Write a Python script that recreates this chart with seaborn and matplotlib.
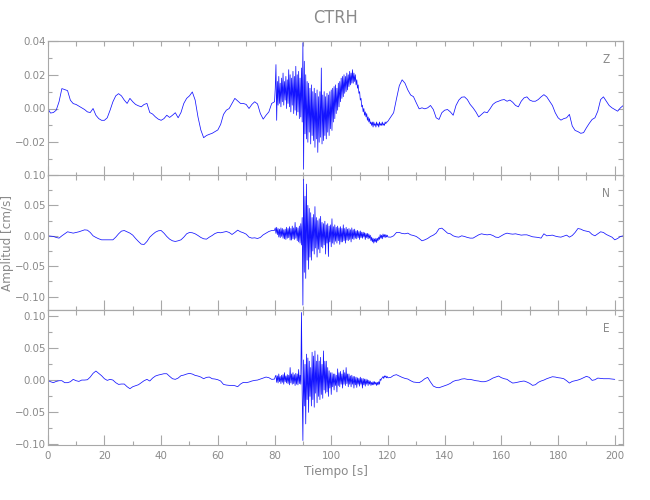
import numpy as np
import pandas as pd
import matplotlib
matplotlib.use('Agg')
import matplotlib.pyplot as plt
import seaborn as sns
from matplotlib.ticker import MultipleLocator, FuncFormatter, NullFormatter

# velocidades (cm/s) leidas del sismograma
# pre: t = 0..79 s cada 1 s ; burst: t = 80..120 s cada 0.25 s ; post: t = 121.. cada 1 s
z_pre = [0.000, -0.0027, -0.0024, -0.001, 0.004, 0.0118, 0.0112, 0.0106, 0.0049, 0.0029,
         0.0024, 0.0014, 0.0004, -0.0006, -0.002, -0.0024, 0.000, -0.004, -0.006, -0.007,
         -0.007, -0.0055, -0.001, 0.004, 0.0075, 0.0088, 0.0075, 0.005, 0.003, 0.006,
         0.004, 0.0024, 0.0016, 0.001, 0.0024, 0.003, -0.0024, -0.0033, -0.005, -0.0063,
         -0.007, -0.006, -0.004, -0.0053, -0.004, -0.0025, -0.0055, -0.0024, 0.003, 0.006,
         0.0075, 0.0098, 0.005, -0.005, -0.0127, -0.0173, -0.016, -0.0153, -0.0147, -0.0137,
         -0.0127, -0.0094, -0.0035, -0.001, 0.000, 0.003, 0.006, 0.0045, 0.003, 0.003,
         0.0024, 0.000, 0.0024, 0.004, 0.0027, -0.003, -0.0063, -0.004, -0.002, 0.003]
z_burst = [0.004, 0.012, 0.026, -0.007, 0.016, 0.002, 0.019, 0.003,
           0.015, 0.001, 0.018, 0.004, 0.021, 0.002, 0.016, 0.005,
           0.019, 0.000, 0.017, 0.003, 0.023, 0.001, 0.020, -0.002,
           0.018, 0.002, 0.022, -0.003, 0.019, -0.001, 0.025, -0.004,
           0.020, -0.002, 0.022, -0.006, 0.018, -0.005, 0.024, -0.008,
           0.039, -0.036, 0.028, -0.015, 0.020, -0.018, 0.016, -0.020,
           0.015, -0.014, 0.012, -0.021, 0.014, -0.016, 0.010, -0.019,
           0.012, -0.023, 0.009, -0.018, 0.011, -0.026, 0.007, -0.020,
           0.010, -0.017, 0.024, -0.021, 0.008, -0.019, 0.010, -0.016,
           0.007, -0.018, 0.009, -0.014, 0.008, -0.016, 0.010, -0.012,
           0.011, -0.013, 0.012, -0.008, 0.013, -0.006, 0.014, -0.003,
           0.012, -0.001, 0.015, 0.001, 0.016, 0.004, 0.018, 0.006,
           0.019, 0.007, 0.020, 0.009, 0.019, 0.010, 0.021, 0.011,
           0.020, 0.013, 0.022, 0.014, 0.021, 0.015, 0.023, 0.015,
           0.021, 0.016, 0.020, 0.014, 0.017, 0.012, 0.014, 0.009,
           0.010, 0.005, 0.006, 0.001, 0.002, -0.002, 0.000, -0.004,
           -0.002, -0.005, -0.003, -0.007, -0.005, -0.008, -0.006, -0.009,
           -0.008, -0.010, -0.008, -0.011, -0.008, -0.010, -0.009, -0.011,
           -0.008, -0.010, -0.009, -0.011, -0.008, -0.010, -0.009, -0.010,
           -0.008, -0.010, -0.009, -0.010, -0.008, -0.009, -0.008, -0.008,
           -0.0075]
z_post = [-0.005, -0.0025, 0.0057, 0.0135, 0.017, 0.015, 0.011, 0.008, 0.007, 0.0033,
          -0.0002, 0.0004, -0.0002, 0.0004, 0.0018, -0.0006, -0.0055, -0.0065, -0.0025, -0.001,
          -0.0006, -0.002, -0.004, 0.0018, 0.005, 0.0067, 0.0069, 0.0053, 0.0024, 0.0004,
          -0.002, -0.005, -0.0035, -0.002, -0.0025, -0.0002, 0.0024, 0.0037, 0.0043, 0.005,
          0.0053, 0.0043, 0.005, 0.0037, 0.0018, 0.001, 0.0043, 0.0063, 0.0069, 0.005,
          0.0043, 0.0043, 0.0053, 0.0069, 0.0082, 0.0069, 0.0043, 0.0018, -0.0025, -0.0055,
          -0.0069, -0.006, -0.0055, -0.0035, -0.0104, -0.013, -0.0137, -0.0147, -0.0143, -0.0114,
          -0.0088, -0.0065, -0.0055, -0.0016, 0.0053, 0.0069, 0.0043, 0.0018, 0.0004, -0.0006,
          -0.0016, 0.0004, 0.0018]

n_pre = [0.000, -0.0005, -0.001, -0.0027, -0.0038, 0.000, 0.0033, 0.0066, 0.0055, 0.0044,
         0.0055, 0.0066, 0.0082, 0.0098, 0.0093, 0.0055, 0.000, -0.0027, -0.0049, -0.0066,
         -0.0066, -0.0066, -0.0066, -0.0066, -0.0022, 0.0033, 0.0077, 0.0087, 0.0066, 0.0044,
         0.0011, -0.0044, -0.0093, -0.0137, -0.0142, -0.0093, -0.0022, 0.0022, 0.006, 0.0082,
         0.0087, 0.0044, -0.0011, -0.0055, -0.0082, -0.0093, -0.0082, -0.0066, -0.0022, 0.0033,
         0.0055, 0.005, 0.0033, 0.0005, -0.0027, -0.0049, -0.0055, -0.0022, 0.0005, 0.0038,
         0.0055, 0.005, 0.006, 0.0071, 0.0055, 0.0022, 0.0055, 0.0093, 0.0066, 0.005,
         0.0027, -0.0022, -0.0038, -0.0033, -0.0044, -0.0027, 0.0016, 0.0044, 0.0071, 0.0087]
n_burst = [0.009, 0.013, 0.004, 0.014, 0.002, 0.012, -0.002, 0.011,
           -0.003, 0.013, -0.001, 0.012, -0.004, 0.010, -0.005, 0.011,
           -0.006, 0.014, -0.004, 0.012, -0.003, 0.015, -0.007, 0.012,
           -0.007, 0.016, -0.005, 0.013, -0.006, 0.022, -0.004, 0.014,
           -0.008, 0.013, -0.010, 0.016, -0.012, 0.020, -0.015, 0.030,
           -0.114, 0.093, -0.060, 0.065, -0.070, 0.085, -0.040, 0.050,
           -0.055, 0.045, -0.035, 0.038, -0.040, 0.030, -0.025, 0.035,
           -0.030, 0.048, -0.020, 0.030, -0.035, 0.025, -0.022, 0.028,
           -0.028, 0.032, -0.018, 0.022, -0.020, 0.020, -0.015, 0.024,
           -0.030, 0.018, -0.012, 0.020, -0.034, 0.016, -0.010, 0.018,
           -0.018, 0.028, -0.012, 0.015, -0.014, 0.018, -0.009, 0.014,
           -0.012, 0.016, -0.008, 0.013, -0.014, 0.015, -0.010, 0.012,
           -0.010, 0.018, -0.008, 0.012, -0.012, 0.014, -0.007, 0.011,
           -0.008, 0.012, -0.006, 0.010, -0.010, 0.013, -0.005, 0.010,
           -0.006, 0.011, -0.004, 0.008, -0.005, 0.009, -0.003, 0.007,
           -0.006, 0.008, -0.003, 0.006, -0.004, 0.006, -0.002, 0.005,
           -0.006, 0.004, -0.003, 0.004, -0.005, 0.003, -0.004, 0.001,
           -0.008, -0.002, -0.010, -0.004, -0.012, -0.005, -0.010, -0.004,
           -0.011, -0.004, -0.008, -0.002, -0.006, 0.002, -0.004, 0.001,
           -0.005, 0.003, -0.002, 0.002, -0.003, 0.002, -0.002, 0.001,
           -0.002]
n_post = [-0.0022, 0.000, 0.0055, 0.0055, 0.0038, 0.0033, 0.0044, 0.0016, 0.0005, -0.0011,
          -0.0044, -0.0082, -0.0066, -0.0044, -0.0011, 0.0011, 0.0044, 0.0115, 0.0126, 0.0087,
          0.0044, 0.0033, 0.000, -0.0016, -0.0022, 0.000, -0.0011, -0.0027, -0.0038, -0.0038,
          -0.0011, 0.0016, 0.0033, 0.0022, 0.0016, 0.0022, 0.0005, -0.0022, -0.0027, 0.000,
          0.0027, 0.0044, 0.0033, 0.0027, 0.0033, 0.0022, 0.0011, 0.0016, 0.0016, 0.000,
          -0.0016, -0.0022, -0.0027, -0.0038, 0.0033, 0.000, 0.0005, 0.0011, -0.0005, -0.0016,
          -0.0022, -0.0005, 0.0011, -0.0022, 0.0005, 0.0055, 0.012, 0.011, 0.0087, 0.0077,
          0.0066, 0.0022, 0.000, 0.0033, 0.0066, 0.0055, 0.0022, 0.000, -0.0022, -0.0066,
          -0.0044, -0.0011, 0.000]

e_pre = [0.000, -0.0021, -0.0036, -0.0016, -0.0005, -0.0005, -0.0036, -0.0036, -0.0021, 0.0016,
         -0.0005, -0.0016, 0.0005, 0.0005, 0.001, 0.0052, 0.011, 0.0146, 0.011, 0.0073,
         0.0026, 0.000, 0.0016, 0.0005, -0.0036, -0.0063, -0.0057, -0.0057, -0.0099, -0.013,
         -0.0099, -0.0083, -0.0068, -0.0036, -0.0005, 0.0016, -0.001, 0.0036, 0.0068, 0.0083,
         0.0094, 0.0104, 0.0104, 0.0063, 0.0026, 0.0016, 0.0036, 0.0073, 0.0083, 0.0099,
         0.011, 0.0099, 0.0078, 0.0068, 0.0052, 0.0026, 0.0047, 0.0052, 0.0026, 0.0021,
         0.001, -0.001, -0.0063, -0.0073, -0.0078, -0.0078, -0.0083, -0.0099, -0.0057, -0.0031,
         -0.0036, -0.0026, -0.001, 0.000, 0.0005, 0.0021, 0.0036, 0.0052, 0.0042, 0.0016]
e_burst = [0.002, 0.006, 0.008, -0.003, 0.007, -0.004, 0.010, -0.002,
           0.006, -0.005, 0.008, -0.003, 0.009, -0.006, 0.012, -0.002,
           0.007, -0.004, 0.009, -0.005, 0.008, -0.007, 0.020, -0.004,
           0.010, -0.006, 0.012, -0.005, 0.009, -0.008, 0.011, -0.006,
           0.010, -0.007, 0.017, -0.005, 0.008, -0.006, 0.106, -0.020,
           -0.094, 0.032, -0.040, 0.025, -0.068, 0.041, -0.030, 0.035,
           -0.050, 0.030, -0.025, 0.020, -0.040, 0.044, -0.030, 0.038,
           -0.042, 0.046, -0.020, 0.030, -0.035, 0.040, -0.025, 0.030,
           -0.030, 0.036, -0.022, 0.025, -0.028, 0.046, -0.015, 0.030,
           -0.020, 0.030, -0.018, 0.020, -0.025, 0.015, -0.012, 0.012,
           -0.022, 0.012, -0.010, 0.010, -0.015, 0.010, -0.008, 0.008,
           -0.018, 0.018, -0.008, 0.012, -0.010, 0.014, -0.006, 0.010,
           -0.012, 0.016, -0.006, 0.012, -0.008, 0.020, -0.005, 0.010,
           -0.010, 0.010, -0.006, 0.007, -0.010, 0.008, -0.006, 0.006,
           -0.012, 0.006, -0.007, 0.005, -0.011, 0.004, -0.006, 0.003,
           -0.009, 0.005, -0.006, 0.003, -0.012, 0.003, -0.007, 0.002,
           -0.009, 0.002, -0.006, 0.001, -0.008, 0.000, -0.006, -0.001,
           -0.008, -0.003, -0.007, -0.002, -0.007, -0.002, -0.006, -0.003,
           -0.008, -0.003, -0.007, -0.002, -0.006, 0.002, 0.000, 0.003,
           0.004, 0.006, 0.003, 0.007, 0.005, 0.007, 0.004, 0.006,
           0.004]
e_post = [0.0047, 0.0078, 0.0089, 0.0068, 0.0047, 0.0031, 0.0021, -0.0005, -0.0026, -0.0031,
          -0.0036, -0.001, 0.0026, 0.0047, -0.0026, -0.0089, -0.0109, -0.0115, -0.0099, -0.0083,
          -0.0068, -0.0047, -0.0016, 0.000, 0.0005, 0.0021, 0.0026, 0.0016, 0.0016, 0.0005,
          -0.0005, -0.001, -0.0021, -0.0021, -0.001, 0.001, 0.0036, 0.0052, 0.0068, 0.0042,
          0.0026, 0.0016, -0.0016, -0.0042, -0.0036, -0.0026, -0.0016, -0.001, -0.0026, -0.0047,
          -0.0078, -0.0068, -0.0031, -0.001, 0.0005, 0.0026, 0.0042, 0.0057, 0.0052, 0.0042,
          0.0036, 0.0026, -0.0005, -0.0042, -0.0016, -0.0005, 0.0005, 0.0021, 0.0042, 0.0063,
          0.0047, 0.000, 0.001, 0.0036, 0.0031, 0.0026, 0.0026, 0.0026, 0.0021, 0.0016]

station = 'CTRH'


def trace(pre, burst, post):
    t = np.concatenate([np.arange(len(pre)) * 1.0,
                        80 + 0.25 * np.arange(len(burst)),
                        121 + np.arange(len(post)) * 1.0])
    return pd.DataFrame({'t': t, 'amp': np.concatenate([pre, burst, post])})


sns.set_style('ticks')
plt.rcParams['font.family'] = ['DejaVu Sans']
plt.rcParams['font.stretch'] = 'condensed'

TXT = '#8a8a8a'
AXC = '#a8a8a8'
LINE = '#1414ff'

fig = plt.figure(figsize=(6.5, 5), dpi=100, facecolor='w')
left, width, height = 47.7 / 650, 575.6 / 650, 0.27

# (componente, datos, ylim, mayor, menor, base del panel)
panels = [('Z', trace(z_pre, z_burst, z_post), (-0.04, 0.04), 0.02, 0.01, 0.648),
          ('N', trace(n_pre, n_burst, n_post), (-0.122, 0.10), 0.05, 0.025, 0.38),
          ('E', trace(e_pre, e_burst, e_post), (-0.101, 0.11), 0.05, 0.025, 0.11)]


def fmt_factory(lo):
    def fmt(v, pos):
        if abs(v - lo) < 1e-6:
            return ''
        s = f'{v:.2f}'
        if s == '-0.00':
            s = '0.00'
        return s.replace('-', '\u2212')
    return fmt


for comp, df, ylim, major, minor, bottom in panels:
    ax = fig.add_axes([left, bottom, width, height])
    sns.lineplot(data=df, x='t', y='amp', ax=ax, color=LINE, linewidth=0.55,
                 estimator=None, sort=False, legend=False)
    ax.set_xlim(0, 203)
    ax.set_ylim(*ylim)
    ax.set_xlabel('')
    ax.set_ylabel('')
    ax.xaxis.set_major_locator(MultipleLocator(20))
    ax.xaxis.set_minor_locator(MultipleLocator(10))
    ax.yaxis.set_major_locator(MultipleLocator(major))
    ax.yaxis.set_minor_locator(MultipleLocator(minor))
    ax.yaxis.set_major_formatter(FuncFormatter(fmt_factory(ylim[0])))
    ax.tick_params(which='both', direction='in', color=AXC, labelcolor=TXT,
                   labelsize=8.2, width=0.8)
    ax.tick_params(which='major', length=7, pad=1.5)
    ax.tick_params(which='minor', length=3)
    ax.tick_params(axis='x', which='major', pad=4)
    for sp in ax.spines.values():
        sp.set_color(AXC)
        sp.set_linewidth(0.8)

    # ticks espejo (arriba / derecha) mas cortos
    top = ax.secondary_xaxis('top')
    top.xaxis.set_major_locator(MultipleLocator(10))
    top.xaxis.set_major_formatter(NullFormatter())
    top.tick_params(direction='in', length=3.5, width=0.8, color=AXC)
    top.spines['top'].set_color(AXC)
    right = ax.secondary_yaxis('right')
    right.yaxis.set_major_locator(MultipleLocator(minor))
    right.yaxis.set_major_formatter(NullFormatter())
    right.tick_params(direction='in', length=3.5, width=0.8, color=AXC)
    right.spines['right'].set_color(AXC)

    ax.text(0.97, 0.86, comp, transform=ax.transAxes, ha='center', va='center',
            fontsize=8.5, color=TXT)
    if comp != 'E':
        ax.tick_params(axis='x', labelbottom=False)

fig.text(336 / 650, 1 - 18 / 500, station, ha='center', va='center', fontsize=13, color=TXT)
fig.text(336 / 650, 1 - 472 / 500, 'Tiempo [s]', ha='center', va='center', fontsize=9.5, color=TXT)
fig.text(8 / 650, 1 - 243 / 500, 'Amplitud [cm/s]', ha='center', va='center',
         rotation=90, fontsize=9.5, color=TXT)

fig.savefig('out.png', dpi=100, facecolor='w')
